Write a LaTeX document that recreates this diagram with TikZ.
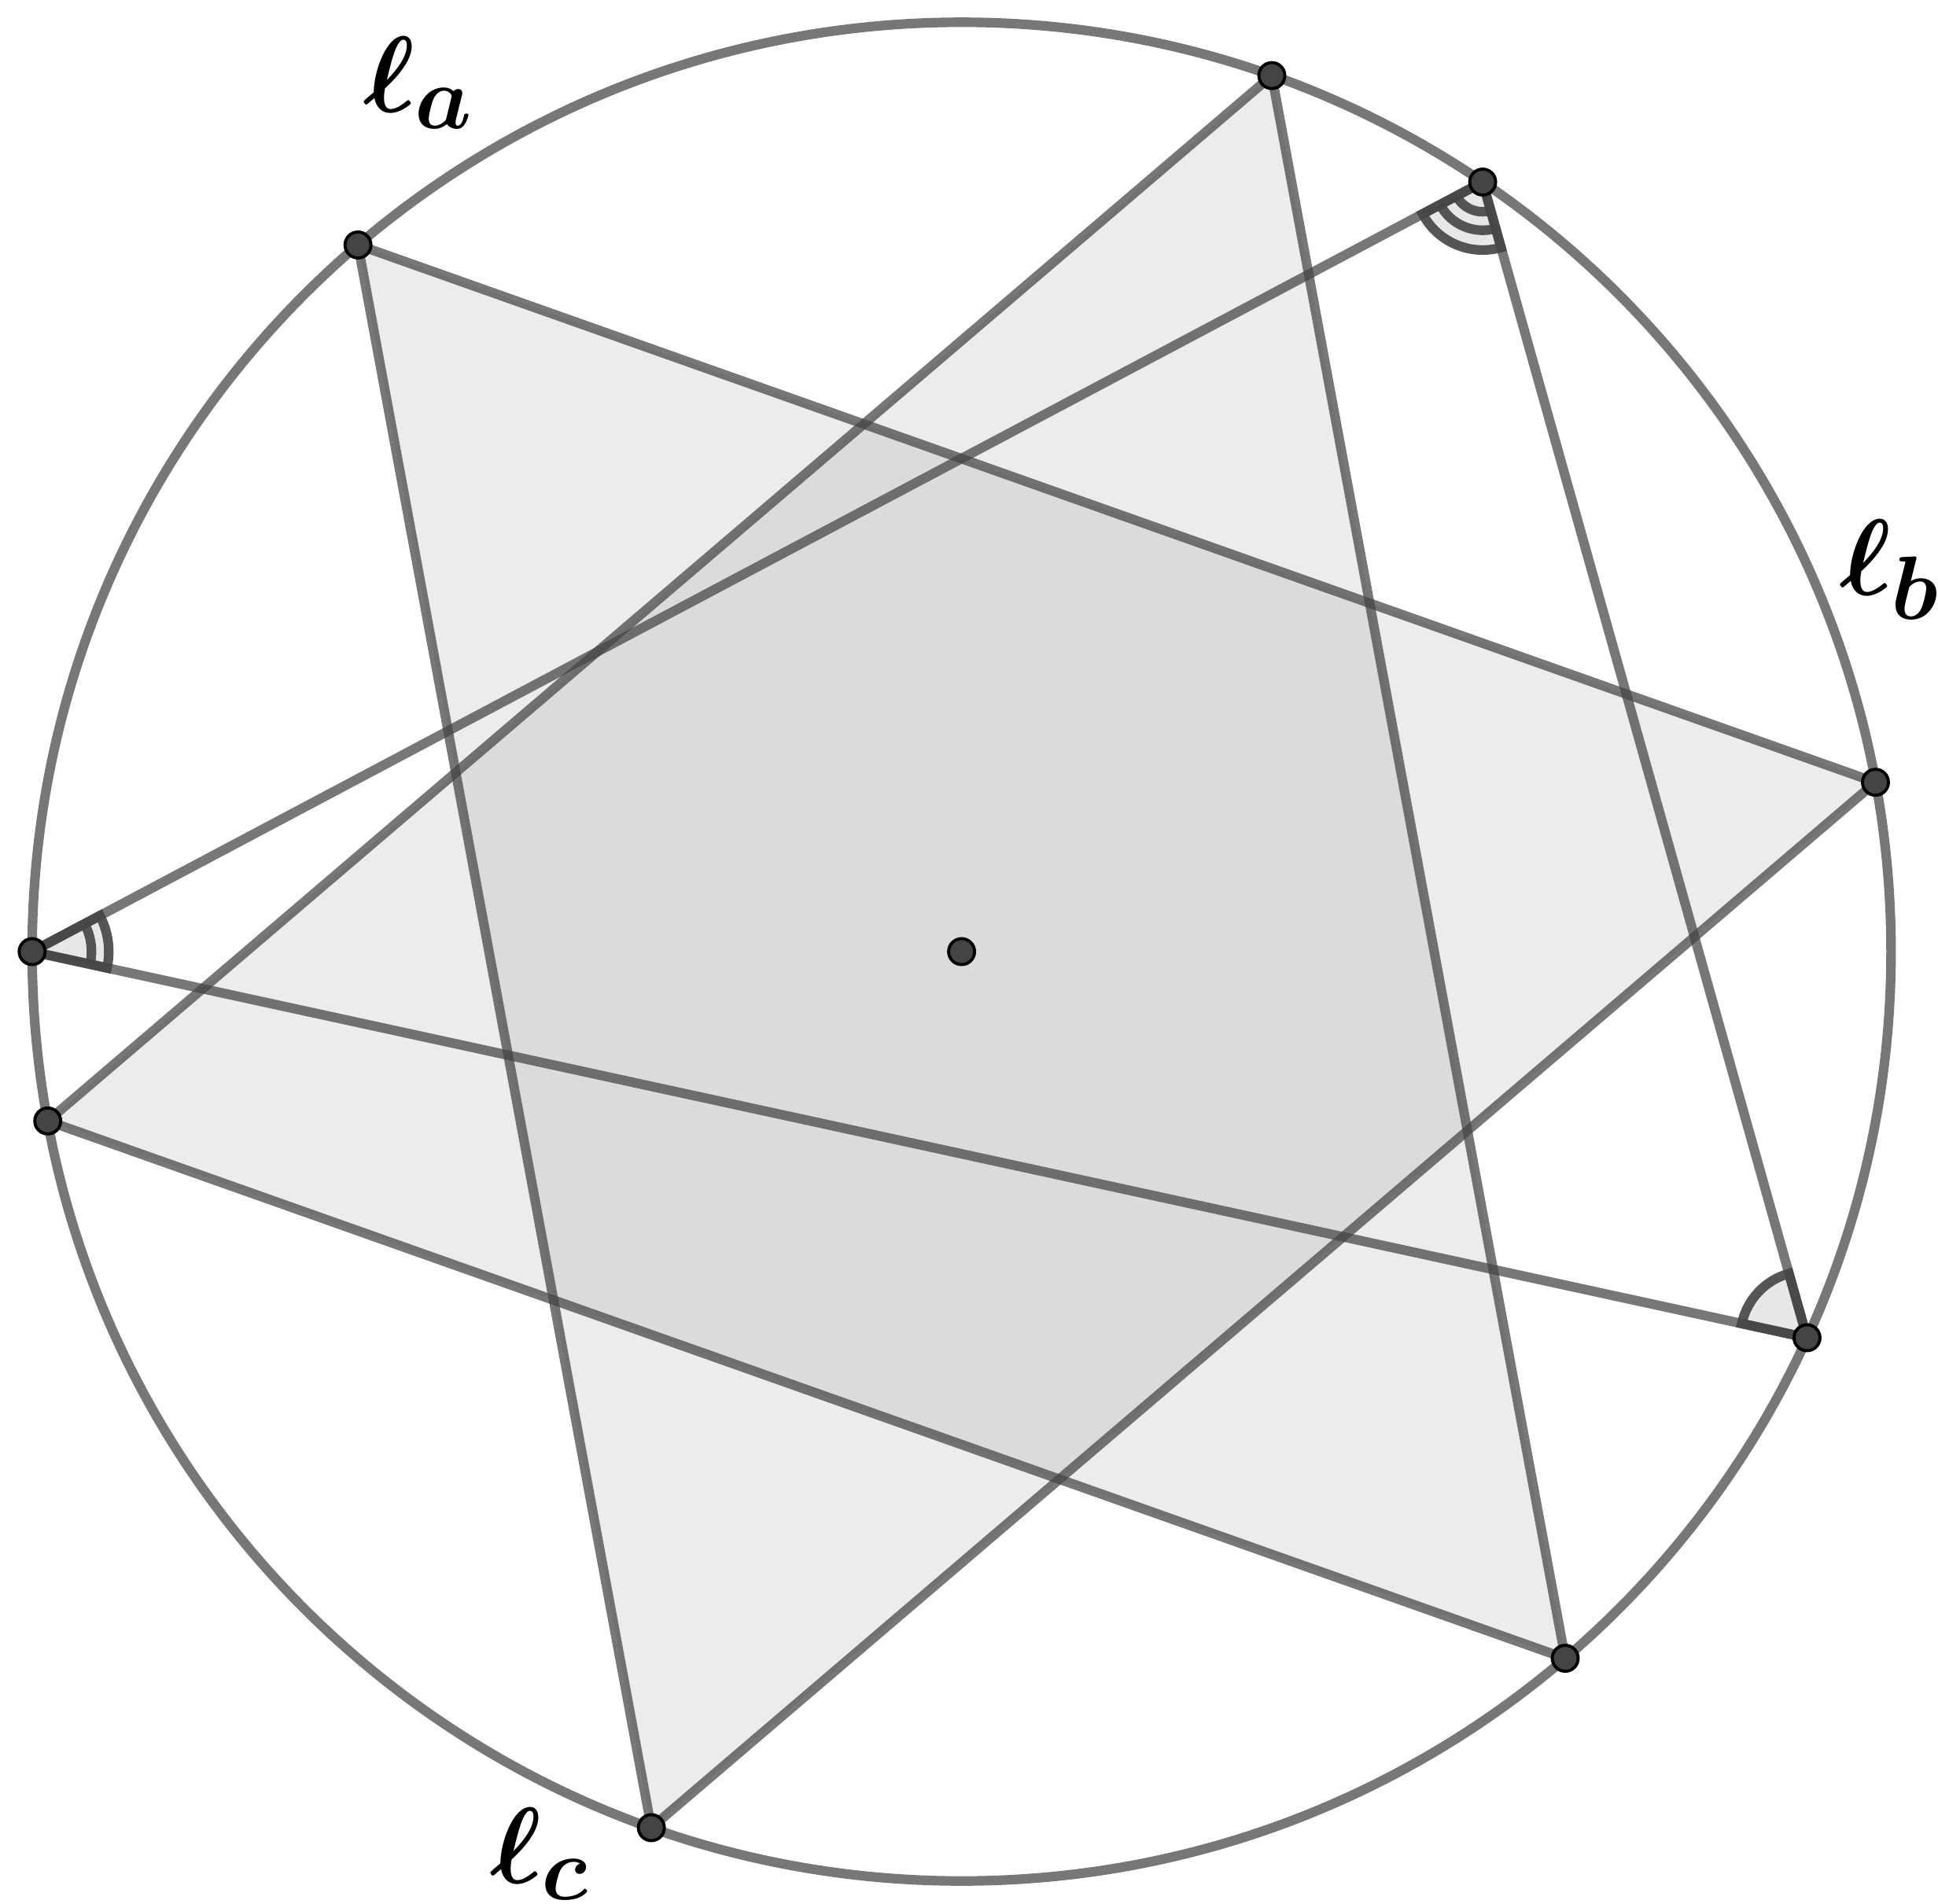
\documentclass[tikz,border=0pt]{standalone}
\usepackage{xcolor}
\usepackage{tikz}
\usetikzlibrary{positioning}
\definecolor{geo}{HTML}{444444}

\begin{document}
\begin{tikzpicture}[
  edge/.style={draw=geo, draw opacity=0.73, line width=2.2pt},
  tri/.style={fill=geo, fill opacity=0.1},
  anglemark/.style={draw=geo, draw opacity=0.9, fill=geo, fill opacity=0.13, line width=2.2pt},
  arcline/.style={draw=geo, draw opacity=0.9, line width=2.2pt},
  dot/.style={circle, draw=black, fill=geo, line width=0.7pt, inner sep=0pt, minimum size=0.21cm},
  lbl/.style={inner sep=0pt, font=\fontsize{28}{32}\selectfont\boldmath}
]

\useasboundingbox (0,0) rectangle (15.68,15.40);

% circle and its centre
\coordinate (O) at (7.78,7.70);

% points on the circle
\coordinate (A1) at ([shift={(O)}]130.5:7.52);
\coordinate (A2) at ([shift={(O)}]10.5:7.52);
\coordinate (A3) at ([shift={(O)}]250.5:7.52);
\coordinate (B1) at ([shift={(O)}]310.5:7.52);
\coordinate (B2) at ([shift={(O)}]190.5:7.52);
\coordinate (B3) at ([shift={(O)}]70.5:7.52);
\coordinate (P) at ([shift={(O)}]180:7.52);
\coordinate (Q) at ([shift={(O)}]55.9:7.52);
\coordinate (R) at ([shift={(O)}]335.45:7.52);

% filled triangles
\fill[tri] (A1) -- (A2) -- (A3) -- cycle;
\fill[tri] (B1) -- (B2) -- (B3) -- cycle;

\draw[edge] (O) circle (7.52);

% sides
\draw[edge] (A1) -- (A2) -- (A3) -- cycle;
\draw[edge] (B1) -- (B2) -- (B3) -- cycle;
\draw[edge] (P) -- (Q) -- (R) -- cycle;

% angle marks
\draw[anglemark] (P) -- ++(-12.3:0.62) arc[start angle=-12.3, end angle=27.95, radius=0.62] -- cycle;
\draw[arcline] ([shift={(-12.3:0.48)}]P) arc[start angle=-12.3, end angle=27.95, radius=0.48];

\draw[anglemark] (Q) -- ++(207.95:0.55) arc[start angle=207.95, end angle=285.68, radius=0.55] -- cycle;
\draw[arcline] ([shift={(207.95:0.39)}]Q) arc[start angle=207.95, end angle=285.68, radius=0.39];
\draw[arcline] ([shift={(207.95:0.24)}]Q) arc[start angle=207.95, end angle=285.68, radius=0.24];

\draw[anglemark] (R) -- ++(105.68:0.54) arc[start angle=105.68, end angle=167.73, radius=0.54] -- cycle;

% dots
\foreach \p in {A1,A2,A3,B1,B2,B3,P,Q,R,O}
  \node[dot] (dot\p) at (\p) {};

% labels
\node[lbl] (la) at (3.39,14.73) {$\ell_a$};
\node[lbl] (lb) at (15.29,10.79) {$\ell_b$};
\node[lbl] (lc) at (4.37,0.40) {$\ell_c$};

\end{tikzpicture}
\end{document}
